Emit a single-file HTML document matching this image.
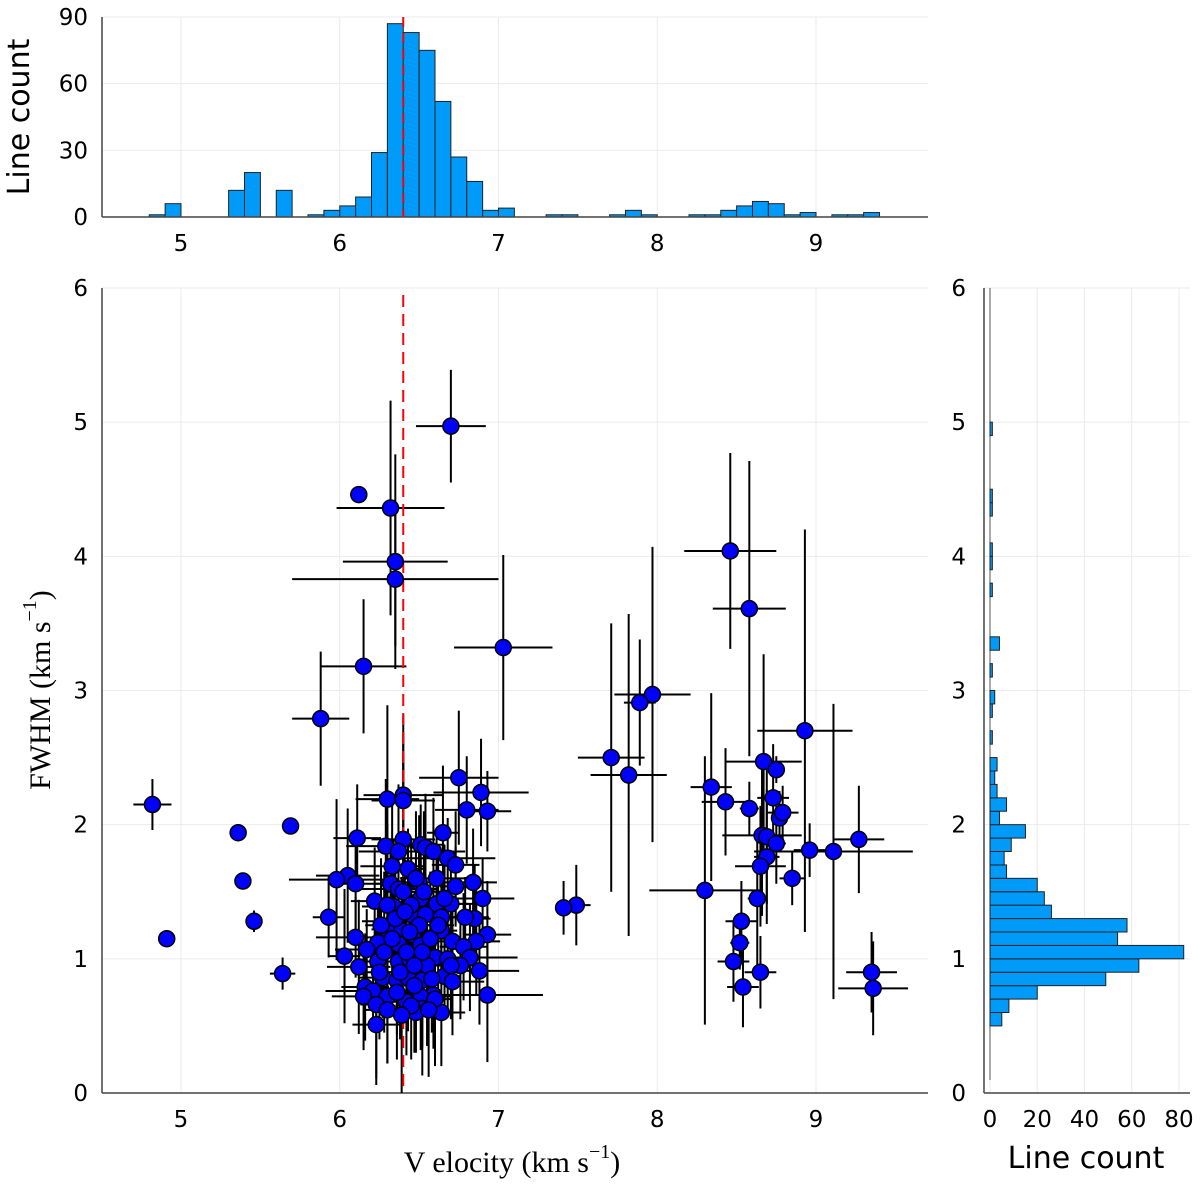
<!DOCTYPE html>
<html><head><meta charset="utf-8"><style>
body{margin:0;background:#fff}
svg{display:block}
text{font-family:"DejaVu Sans","Liberation Sans",sans-serif;fill:#000}
.serif{font-family:"Liberation Serif","DejaVu Serif",serif}
</style></head><body>
<svg id="c" width="1200" height="1188" viewBox="0 0 1200 1188"></svg>
<script>
// ---- data ----
const topBinStarts=[4.8,4.9,5.3,5.4,5.6,5.8,5.9,6.0,6.1,6.2,6.3,6.4,6.5,6.6,6.7,6.8,6.9,7.0,7.3,7.4,7.7,7.8,7.9,8.2,8.3,8.4,8.5,8.6,8.7,8.8,8.9,9.1,9.2,9.3];
const topCounts=[1,6,12,20,12,1,3,5,9,29,87,83,75,52,27,16,3,4,1,1,1,3,1,1,1,3,5,7,6,1,2,1,1,2];
const rightBinStarts=[0.5,0.6,0.7,0.8,0.9,1.0,1.1,1.2,1.3,1.4,1.5,1.6,1.7,1.8,1.9,2.0,2.1,2.2,2.3,2.4,2.6,2.8,2.9,3.1,3.3,3.7,3.9,4.0,4.3,4.4,4.9];
const rightCounts=[5,8,20,49,63,82,54,58,26,23,20,7,6,9,15,4,7,3,2,3,1,1,2,1,4,1,1,1,1,1,1];
const vel=[4.82,4.91,5.36,5.39,5.46,5.64,5.69,5.88,6.15,6.12,6.32,6.35,6.35,6.70,7.03,6.40,6.30,6.75,
8.46,8.58,7.97,7.89,7.71,7.82,8.93,8.67,8.75,8.34,8.43,8.58,8.73,8.77,8.79,8.66,8.69,8.75,8.96,9.11,9.27,8.69,8.65,8.85,8.30,8.63,8.53,8.52,8.48,8.65,8.54,9.35,9.36,7.49,7.41,
6.89,6.40,6.80,6.93,6.65,6.11,6.40,6.29,6.51,6.54,6.59,6.37,6.68,6.73,6.33,6.43,6.05,5.98,6.10,6.61,6.84,6.32,6.50,6.73,6.37,6.90,6.22,6.51,6.61,6.70,6.34,5.93,6.45,6.54,6.64,6.85,6.79,6.34,6.30,6.39,6.46,6.64,6.93,6.10,6.71,6.86,6.24,6.37,6.51,6.78,6.17,6.03,6.60,6.82,6.24,6.37,6.44,6.76,6.12,6.49,6.88,6.27,6.36,6.43,6.52,6.66,6.71,6.16,6.21,6.30,6.15,6.59,6.93,6.51,6.23,6.30,6.42,6.52,6.64,6.48,6.23,
6.40,6.45,6.50,6.42,6.55,6.35,6.47,6.57,6.28,6.60,6.38,6.53,6.62,6.33,6.45,6.25,6.68,6.48,6.58,6.36,6.44,6.52,6.30,6.66,6.41,6.56,6.26,6.70,6.47,6.39];
const fwhm=[2.15,1.15,1.94,1.58,1.28,0.89,1.99,2.79,3.18,4.46,4.36,3.96,3.83,4.97,3.32,2.22,2.19,2.35,
4.04,3.61,2.97,2.91,2.50,2.37,2.70,2.47,2.41,2.28,2.17,2.12,2.20,2.05,2.09,1.92,1.91,1.86,1.81,1.80,1.89,1.76,1.69,1.60,1.51,1.45,1.28,1.12,0.98,0.90,0.79,0.90,0.78,1.40,1.38,
2.24,2.18,2.11,2.10,1.94,1.90,1.89,1.84,1.85,1.83,1.80,1.80,1.75,1.70,1.69,1.67,1.62,1.59,1.56,1.60,1.57,1.56,1.57,1.54,1.52,1.45,1.43,1.45,1.41,1.41,1.39,1.31,1.33,1.33,1.31,1.30,1.31,1.28,1.22,1.21,1.18,1.21,1.18,1.16,1.13,1.13,1.12,1.11,1.10,1.09,1.07,1.02,1.01,1.01,0.98,0.98,1.00,0.95,0.94,0.94,0.91,0.86,0.84,0.86,0.84,0.87,0.83,0.79,0.76,0.72,0.72,0.73,0.73,0.72,0.66,0.62,0.68,0.63,0.60,0.60,0.51,
1.50,1.40,1.25,1.05,0.95,1.30,0.80,1.15,1.05,0.70,0.90,1.50,1.25,1.15,0.65,0.90,1.00,1.60,0.85,0.75,1.20,1.05,1.40,1.45,1.35,0.62,1.25,0.95,0.95,0.58];
const verr=[0.12,0.02,0.02,0.02,0.05,0.08,0.02,0.18,0.27,0.02,0.34,0.33,0.65,0.22,0.31,0.25,0.2,0.25,
0.29,0.23,0.24,0.1,0.21,0.24,0.3,0.24,0.05,0.13,0.15,0.06,0.1,0.05,0.1,0.25,0.08,0.06,0.1,0.5,0.16,0.08,0.16,0.08,0.35,0.06,0.1,0.06,0.1,0.1,0.1,0.16,0.22,0.09,0.05,
0.3,0.2,0.2,0.15,0.1,0.15,0.2,0.25,0.15,0.1,0.2,0.25,0.3,0.15,0.2,0.1,0.2,0.3,0.15,0.2,0.15,0.1,0.2,0.1,0.25,0.2,0.15,0.1,0.2,0.15,0.2,0.1,0.15,0.1,0.2,0.1,0.15,0.2,0.1,0.15,0.2,0.1,0.15,0.25,0.1,0.15,0.1,0.2,0.1,0.15,0.2,0.1,0.15,0.3,0.1,0.2,0.1,0.15,0.2,0.1,0.25,0.15,0.1,0.2,0.15,0.1,0.2,0.15,0.3,0.1,0.2,0.15,0.35,0.2,0.1,0.15,0.2,0.1,0.15,0.15,0.15,
0.1,0.1,0.1,0.1,0.1,0.1,0.1,0.1,0.1,0.1,0.1,0.15,0.1,0.1,0.1,0.1,0.1,0.1,0.1,0.1,0.1,0.1,0.1,0.15,0.1,0.1,0.1,0.1,0.1,0.1];
const ferr=[0.19,0.02,0.02,0.02,0.08,0.12,0.02,0.5,0.5,0.05,0.8,0.8,0.5,0.42,0.69,0.6,0.7,0.5,
0.73,1.1,1.1,0.47,1.0,1.2,1.5,0.8,0.1,0.7,0.4,0.2,0.4,0.2,0.2,0.6,0.5,0.3,0.2,1.1,0.4,0.5,0.45,0.2,1.0,0.5,0.3,0.2,0.3,0.27,0.3,0.3,0.35,0.3,0.2,
0.4,0.5,0.4,0.3,0.5,0.4,0.6,0.5,0.3,0.4,0.4,0.5,0.3,0.4,0.5,0.3,0.5,0.6,0.4,0.3,0.4,0.3,0.5,0.3,0.4,0.3,0.4,0.3,0.3,0.4,0.5,0.3,0.4,0.3,0.3,0.4,0.3,0.4,0.5,0.4,0.3,0.3,0.4,0.3,0.3,0.4,0.3,0.4,0.3,0.4,0.3,0.5,0.3,0.4,0.3,0.3,0.4,0.4,0.5,0.3,0.4,0.3,0.4,0.4,0.5,0.3,0.4,0.4,0.3,0.5,0.4,0.4,0.5,0.4,0.6,0.4,0.4,0.5,0.4,0.3,0.4,0.4,
0.5,0.6,0.5,0.6,0.5,0.5,0.5,0.6,0.5,0.5,0.6,0.5,0.4,0.4,0.5,0.4,0.5,0.4,0.5,0.5,0.5,0.6,0.4,0.4,0.5,0.5,0.4,0.4,0.6,0.5];
const xTicks=[5,6,7,8,9];
const topYTicks=[0,30,60,90];
const mainYTicks=[0,1,2,3,4,5,6];
const rightXTicks=[0,20,40,60,80];
const refVel=6.4;

// ---- scales ----
const X=v=>181+(v-5)*158.75;
const TY=c=>217-c*(200/90);
const FY=f=>1093-f*134.17;
const RX=c=>990+c*(189/80);

const svg=document.getElementById('c');
const NS='http://www.w3.org/2000/svg';
function mk(tag,attrs,parent){const e=document.createElementNS(NS,tag);for(const k in attrs)e.setAttribute(k,attrs[k]);(parent||svg).appendChild(e);return e;}
function txt(s,attrs,parent){const e=mk('text',attrs,parent);e.textContent=s;return e;}

// ---- top histogram ----
const gTop=mk('g',{});


xTicks.forEach(t=>mk('line',{x1:X(t),x2:X(t),y1:17,y2:217,stroke:'#ebebeb','stroke-width':1},gTop));
topYTicks.forEach(t=>mk('line',{x1:102,x2:928,y1:TY(t),y2:TY(t),stroke:'#ebebeb','stroke-width':1},gTop));
topBinStarts.forEach((b,i)=>{const r=mk('rect',{x:X(b),y:TY(topCounts[i]),width:X(b+0.1)-X(b),height:217-TY(topCounts[i]),fill:'#009af9',stroke:'#222','stroke-width':1},gTop);

});
mk('line',{x1:102,x2:102,y1:17,y2:217,stroke:'#444','stroke-width':1.5},gTop);
mk('line',{x1:102,x2:928,y1:217,y2:217,stroke:'#444','stroke-width':1.5},gTop);
topYTicks.forEach(t=>txt(String(t),{x:88,y:TY(t)+8,'font-size':23,'text-anchor':'end'},gTop));
xTicks.forEach(t=>txt(String(t),{x:X(t),y:251,'font-size':23,'text-anchor':'middle'},gTop));
mk('line',{x1:X(refVel),x2:X(refVel),y1:17,y2:217,stroke:'#f00','stroke-width':2,'stroke-dasharray':'10,6'},gTop);
const tyl=txt('Line count',{x:0,y:0,'font-size':30,'text-anchor':'middle',transform:'translate(29,117) rotate(-90)'},gTop);



// ---- main scatter ----
const gM=mk('g',{});


xTicks.forEach(t=>mk('line',{x1:X(t),x2:X(t),y1:288,y2:1093,stroke:'#ebebeb','stroke-width':1},gM));
mainYTicks.forEach(t=>mk('line',{x1:102,x2:928,y1:FY(t),y2:FY(t),stroke:'#ebebeb','stroke-width':1},gM));
mk('line',{x1:102,x2:102,y1:288,y2:1093,stroke:'#444','stroke-width':1.5},gM);
mk('line',{x1:102,x2:928,y1:1093,y2:1093,stroke:'#444','stroke-width':1.5},gM);
mainYTicks.forEach(t=>txt(String(t),{x:88,y:FY(t)+8,'font-size':23,'text-anchor':'end'},gM));
xTicks.forEach(t=>txt(String(t),{x:X(t),y:1127,'font-size':23,'text-anchor':'middle'},gM));
const gE=mk('g',{stroke:'#000','stroke-width':2},gM);
vel.forEach((v,i)=>{const f=Math.max(0,fwhm[i]-ferr[i]);
 const a=mk('line',{x1:X(v-verr[i]),x2:X(v+verr[i]),y1:FY(fwhm[i]),y2:FY(fwhm[i])},gE);
 
 
 const b=mk('line',{x1:X(v),x2:X(v),y1:FY(fwhm[i]+ferr[i]),y2:FY(f)},gE);
 
 });
mk('line',{x1:X(refVel),x2:X(refVel),y1:295,y2:1093,stroke:'#f00','stroke-width':2,'stroke-dasharray':'12,7'},gM);
vel.forEach((v,i)=>{const c=mk('circle',{cx:X(v),cy:FY(fwhm[i]),r:8,fill:'#0000ff',stroke:'#000','stroke-width':1.5},gM);
 
 });
const xl=txt('',{x:512,y:1172,'font-size':30,'text-anchor':'middle',class:'serif'},gM);
xl.innerHTML='V elocity (km s<tspan dy="-14" font-size="20">−1</tspan><tspan dy="14">)</tspan>';


const yl=txt('',{x:0,y:0,'font-size':30,'text-anchor':'middle',class:'serif',transform:'translate(50,690) rotate(-90)'},gM);
yl.innerHTML='FWHM (km s<tspan dy="-14" font-size="20">−1</tspan><tspan dy="14">)</tspan>';



// ---- right histogram ----
const gR=mk('g',{});


rightXTicks.forEach(t=>mk('line',{x1:RX(t),x2:RX(t),y1:288,y2:1093,stroke:'#ebebeb','stroke-width':1},gR));
mainYTicks.forEach(t=>mk('line',{x1:984,x2:1190,y1:FY(t),y2:FY(t),stroke:'#ebebeb','stroke-width':1},gR));
mk('line',{x1:RX(0),x2:RX(0),y1:288,y2:1080,stroke:'#555','stroke-width':1},gR);
rightBinStarts.forEach((b,i)=>{const r=mk('rect',{x:RX(0),y:FY(b+0.1),width:RX(rightCounts[i])-RX(0),height:FY(b)-FY(b+0.1),fill:'#009af9',stroke:'#222','stroke-width':1},gR);
 
 });
mk('line',{x1:984,x2:984,y1:288,y2:1093,stroke:'#444','stroke-width':1.5},gR);
mk('line',{x1:984,x2:1190,y1:1093,y2:1093,stroke:'#444','stroke-width':1.5},gR);
mainYTicks.forEach(t=>txt(String(t),{x:966,y:FY(t)+8,'font-size':23,'text-anchor':'end'},gR));
rightXTicks.forEach(t=>txt(String(t),{x:RX(t),y:1127,'font-size':23,'text-anchor':'middle'},gR));
const rl=txt('Line count',{x:1086,y:1168,'font-size':30,'text-anchor':'middle'},gR);


</script>
</body></html>
